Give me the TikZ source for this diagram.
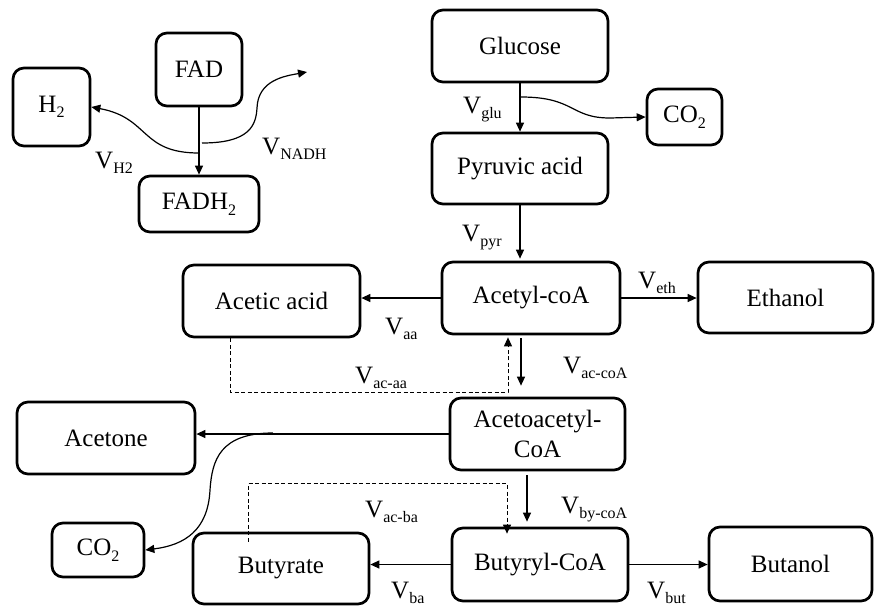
\documentclass[tikz,border=0pt]{standalone}
\usepackage{fontspec}
\setmainfont{Liberation Serif}
\usetikzlibrary{arrows.meta,calc}
\newcommand{\sbs}[1]{\raisebox{-5.5pt}{\fontsize{16}{16}\selectfont #1}}
\begin{document}
\begin{tikzpicture}[x=1pt,y=-1pt,
 box/.style={draw,line width=2.7pt,rounded corners=11pt,align=center,font=\fontsize{25}{30}\selectfont,inner sep=0pt},
 arr/.style={line width=1.2pt,-{Triangle[length=9pt,width=8pt]}},
 dsh/.style={line width=1pt,dash pattern=on 4pt off 2.5pt,-{Triangle[length=9pt,width=8pt]}},
 lab/.style={anchor=base west,inner sep=0pt,font=\fontsize{25}{26}\selectfont}]
\useasboundingbox (0,0) rectangle (875,606);
% boxes
\node[box,minimum width=77pt,minimum height=78pt] (h2) at (51.5,107) {H\sbs{2}};
\node[box,minimum width=86pt,minimum height=73pt] (fad) at (199,69.5) {FAD};
\node[box,minimum width=120pt,minimum height=56pt] (fadh) at (199,204) {FADH\sbs{2}};
\node[box,minimum width=176pt,minimum height=72pt] (glu) at (520,46) {Glucose};
\node[box,minimum width=75pt,minimum height=56pt] (co2a) at (684.5,117) {CO\sbs{2}};
\node[box,minimum width=176pt,minimum height=71pt] (pyr) at (520,168.5) {Pyruvic acid};
\node[box,minimum width=177pt,minimum height=72pt] (acetic) at (271.5,301) {Acetic acid};
\node[box,minimum width=178pt,minimum height=72pt] (acetyl) at (531,298) {Acetyl-coA};
\node[box,minimum width=175pt,minimum height=71pt] (eth) at (785.5,297.5) {Ethanol};
\node[box,minimum width=175pt,minimum height=72pt] (acac) at (537.5,434) {Acetoacetyl-\\CoA};
\node[box,minimum width=178pt,minimum height=72pt] (acetone) at (106,438) {Acetone};
\node[box,minimum width=92pt,minimum height=54pt] (co2b) at (98,550) {CO\sbs{2}};
\node[box,minimum width=176pt,minimum height=71pt] (butyrate) at (281,568.5) {Butyrate};
\node[box,minimum width=176pt,minimum height=73pt] (butyryl) at (540,564.5) {Butyryl-CoA};
\node[box,minimum width=163pt,minimum height=74pt] (butanol) at (790.5,564) {Butanol};
% branch points and free end
\coordinate (bglu) at (521,97);
\coordinate (bh2) at (199,153);
\coordinate (bnadh) at (202,143);
\coordinate (nadhend) at (307,72);
\coordinate (bace) at (273,433);
% main arrows
\draw[arr] (fad) -- (fadh);
\draw[arr] (glu) -- (pyr);
\draw[arr] (pyr.south) -- ([xshift=-11pt,yshift=2pt]acetyl.north);
\draw[arr] (acetyl.west) -- (acetyl.west -| acetic.east);
\draw[arr] (acetyl.east) -- (acetyl.east -| eth.west);
\draw[arr] ([xshift=-10pt,yshift=-3pt]acetyl.south) -- ([xshift=-16.5pt,yshift=11pt]acac.north);
\draw[arr] (acac.west) -- (acac.west -| acetone.east);
\draw[arr] ([xshift=-10.5pt,yshift=-4pt]acac.south) -- ([xshift=-13pt,yshift=5pt]butyryl.north);
\draw[arr] (butyryl.west) -- (butyryl.west -| butyrate.east);
\draw[arr] (butyryl.east) -- (butyryl.east -| butanol.west);
% curved branches
\draw[arr] (bglu) .. controls (575,97) and (570,118) .. (610,118) -- (co2a.west);
\draw[arr] (bh2) .. controls (140,153) and (150,118) .. (h2.east);
\draw[arr] (bnadh) .. controls (250,143) and (256,125) .. (257,108) .. controls (258,80) and (285,76) .. (nadhend);
\draw[arr] (bace) .. controls (220,433) and (212,460) .. (210,490) .. controls (208,530) and (185,545) .. (co2b.east);
% dashed feedback
\draw[dsh] ([xshift=-41.5pt]acetic.south) -- ++(0,54) -| ([xshift=-23pt,yshift=-2pt]acetyl.south);
\draw[dsh] ([xshift=-33pt,yshift=-10pt]butyrate.north) -- ++(0,-58) -| ([xshift=-33pt,yshift=-7pt]butyryl.north);
% labels
\node[lab] (lglu) at (463,113) {V\sbs{glu}};
\node[lab] (lh2) at (95,168) {V\sbs{H2}};
\node[lab] (lnadh) at (262,154) {V\sbs{NADH}};
\node[lab] (lpyr) at (462,241) {V\sbs{pyr}};
\node[lab] (laa) at (385,334) {V\sbs{aa}};
\node[lab] (leth) at (638,288) {V\sbs{eth}};
\node[lab] (lacaa) at (355,383) {V\sbs{ac-aa}};
\node[lab] (laccoa) at (563,373) {V\sbs{ac-coA}};
\node[lab] (lacba) at (365,517) {V\sbs{ac-ba}};
\node[lab] (lbycoa) at (561,513) {V\sbs{by-coA}};
\node[lab] (lba) at (391,598) {V\sbs{ba}};
\node[lab] (lbut) at (647,598) {V\sbs{but}};
\end{tikzpicture}
\end{document}
